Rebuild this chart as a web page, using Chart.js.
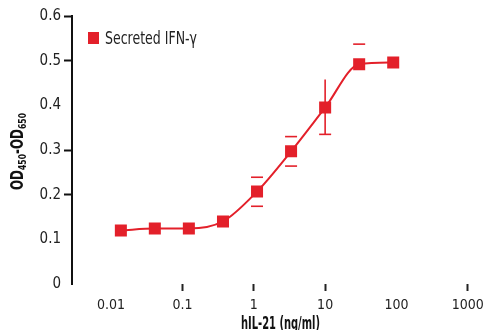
<!DOCTYPE html>
<html>
<head>
<meta charset="utf-8">
<script src="https://cdn.jsdelivr.net/npm/chart.js@4/dist/chart.umd.min.js"></script>
<style>
  html, body { margin: 0; padding: 0; background: #fff; }
  #wrap { width: 490px; height: 330px; }
</style>
</head>
<body>
<div id="wrap"><canvas id="c" width="490" height="330"></canvas></div>
<script>
// ---- data ----
const concentrations = [0.0137, 0.041, 0.123, 0.37, 1.11, 3.33, 10, 30, 90];   // hIL-21 (ng/ml)
const ifnGamma       = [0.120, 0.124, 0.124, 0.140, 0.207, 0.297, 0.395, 0.492, 0.496];
const errHigh        = [null, null, null, null, 0.032, 0.033, 0.063, 0.045, null];
const errLow         = [null, null, null, null, 0.033, 0.033, 0.060, null, null];
const capHigh        = [false, false, false, false, true, true, false, true, false];
const stem           = [false, false, false, false, false, false, true, false, false];
const xTickValues    = [0.01, 0.1, 1, 10, 100, 1000];
const xTickMarked    = [0.1, 1, 10, 1000];
const yTickValues    = [0, 0.1, 0.2, 0.3, 0.4, 0.5, 0.6];
const yTickMarked    = [0.2, 0.3, 0.5, 0.6];
const seriesLabel    = 'Secreted IFN-γ';
const xTitle         = 'hIL-21 (ng/ml)';

const RED = '#e3202a';
const FONT = "'Liberation Sans Narrow', 'DejaVu Sans Condensed', 'Liberation Sans', sans-serif";

// draws text squeezed horizontally to a target width (condensed look)
function fitText(ctx, text, x, y, width) {
  const w = ctx.measureText(text).width;
  ctx.save();
  ctx.translate(x, y);
  ctx.scale(width / w, 1);
  ctx.fillText(text, 0, 0);
  ctx.restore();
}

const extras = {
  id: 'extras',
  beforeDatasetsDraw(chart) {
    const ctx = chart.ctx, xs = chart.scales.x, ys = chart.scales.y;
    ctx.save();
    ctx.strokeStyle = RED;
    ctx.lineWidth = 1.6;
    const half = 6;
    concentrations.forEach((c, i) => {
      const px = xs.getPixelForValue(c);
      const py = ys.getPixelForValue(ifnGamma[i]);
      if (errHigh[i] != null) {
        const yt = ys.getPixelForValue(ifnGamma[i] + errHigh[i]);
        if (stem[i]) { ctx.beginPath(); ctx.moveTo(px, py); ctx.lineTo(px, yt); ctx.stroke(); }
        if (capHigh[i]) { ctx.beginPath(); ctx.moveTo(px - half, yt); ctx.lineTo(px + half, yt); ctx.stroke(); }
      }
      if (errLow[i] != null) {
        const yb = ys.getPixelForValue(ifnGamma[i] - errLow[i]);
        if (stem[i]) { ctx.beginPath(); ctx.moveTo(px, py); ctx.lineTo(px, yb); ctx.stroke(); }
        ctx.beginPath(); ctx.moveTo(px - half, yb); ctx.lineTo(px + half, yb); ctx.stroke();
      }
    });
    ctx.restore();
  },
  afterDraw(chart) {
    const ctx = chart.ctx;
    // y title with subscripts, rotated
    ctx.save();
    ctx.fillStyle = '#111';
    const big = "bold 17px " + FONT, small = "bold 11px " + FONT;
    const parts = [['OD', big, 0], ['450', small, 3], ['-OD', big, 0], ['650', small, 3]];
    let total = 0;
    parts.forEach(p => { ctx.font = p[1]; total += ctx.measureText(p[0]).width; });
    const target = 77, sx = target / total;
    ctx.translate(23, 151.5);
    ctx.rotate(-Math.PI / 2);
    ctx.scale(sx, 1);
    ctx.textBaseline = 'alphabetic';
    ctx.textAlign = 'left';
    let x = -total / 2;
    parts.forEach(p => { ctx.font = p[1]; ctx.fillText(p[0], x, p[2]); x += ctx.measureText(p[0]).width; });
    ctx.restore();

    // x title
    ctx.save();
    ctx.fillStyle = '#111';
    ctx.font = "bold 17px " + FONT;
    ctx.textAlign = 'left';
    ctx.textBaseline = 'alphabetic';
    fitText(ctx, xTitle, 241, 328.5, 79);
    // legend
    ctx.fillStyle = RED;
    ctx.fillRect(88, 32, 11, 12);
    ctx.fillStyle = '#222';
    ctx.font = "17px " + FONT;
    ctx.textBaseline = 'alphabetic';
    fitText(ctx, chart.data.datasets[0].label, 105, 43.5, 92);
    ctx.restore();
  }
};

new Chart(document.getElementById('c'), {
  type: 'line',
  data: {
    datasets: [{
      label: seriesLabel,
      data: concentrations.map((c, i) => ({ x: c, y: ifnGamma[i] })),
      borderColor: RED,
      backgroundColor: RED,
      borderWidth: 2,
      cubicInterpolationMode: 'monotone',
      pointStyle: 'rect',
      pointRadius: 8.5,
      pointBorderWidth: 0,
      pointBackgroundColor: RED,
      fill: false
    }]
  },
  options: {
    responsive: false,
    devicePixelRatio: 1,
    animation: false,
    layout: { padding: { top: 16, right: 10, left: 0, bottom: 0 } },
    plugins: { legend: { display: false }, tooltip: { enabled: false } },
    scales: {
      x: {
        type: 'logarithmic',
        min: 0.00283,
        max: 1230,
        afterBuildTicks(s) { s.ticks = xTickValues.map(v => ({ value: v })); },
        afterFit(s) { s.height = 46; },
        border: { display: false },
        grid: {
          drawOnChartArea: false, drawTicks: true, tickLength: 7, tickWidth: 2,
          tickColor: c => xTickMarked.includes(c.tick && c.tick.value) ? '#222' : 'rgba(0,0,0,0)'
        },
        ticks: {
          padding: 6, color: '#222', font: { family: FONT, size: 14 }, maxRotation: 0, autoSkip: false,
          callback: v => String(v)
        }
      },
      y: {
        min: 0, max: 0.6,
        afterBuildTicks(s) { s.ticks = yTickValues.map(v => ({ value: v })); },
        afterFit(s) { s.width = 72; },
        border: { display: true, color: '#111', width: 2 },
        grid: {
          drawOnChartArea: false, drawTicks: true, tickLength: 8, tickWidth: 2,
          tickColor: c => yTickMarked.includes(c.tick && Math.round(c.tick.value * 10) / 10) ? '#111' : 'rgba(0,0,0,0)'
        },
        ticks: {
          padding: 3, color: '#222', font: { family: FONT, size: 15 },
          callback: v => (Math.round(v * 10) / 10).toString()
        }
      }
    }
  },
  plugins: [extras]
});
</script>
</body>
</html>
